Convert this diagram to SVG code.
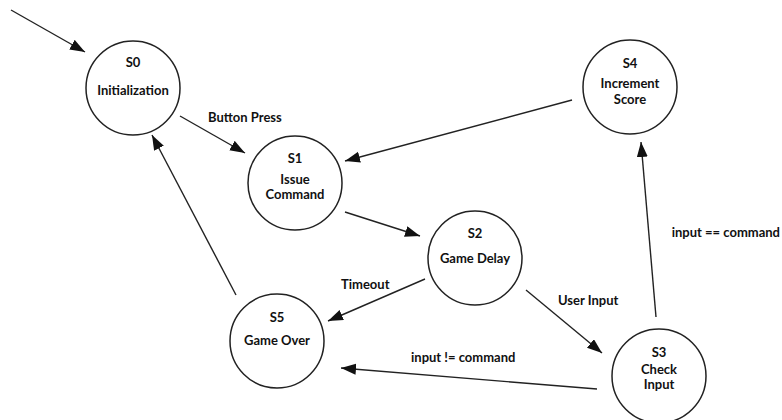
<svg xmlns="http://www.w3.org/2000/svg" width="782" height="420" viewBox="0 0 782 420">
<style>
.st{fill:#fff;stroke:#222;stroke-width:1.5}
.t{font-family:Lato,"Liberation Sans",sans-serif;font-weight:700;font-size:13px;fill:#111;text-anchor:middle}
.el{font-family:Lato,"Liberation Sans",sans-serif;font-weight:700;font-size:13px;fill:#111}
.e{stroke:#222;stroke-width:1.4;fill:none;marker-end:url(#ah)}
</style>
<defs>
<marker id="ah" markerUnits="userSpaceOnUse" markerWidth="16" markerHeight="12" refX="15" refY="5.5" orient="auto">
<path d="M0,0 L15,5.5 L0,11 z" fill="#111"/>
</marker>
</defs>
<rect width="782" height="420" fill="#fff"/>
<g id="connectors">
<line class="e" x1="11" y1="10" x2="85" y2="52"/>
<line class="e" x1="180" y1="116" x2="245" y2="153"/>
<line class="e" x1="572" y1="100" x2="345" y2="161"/>
<line class="e" x1="345" y1="212" x2="420" y2="236"/>
<line class="e" x1="425" y1="279" x2="328" y2="321"/>
<line class="e" x1="526" y1="290" x2="602" y2="353"/>
<line class="e" x1="597" y1="389" x2="341" y2="368"/>
<line class="e" x1="656" y1="317" x2="641" y2="142"/>
<line class="e" x1="236" y1="295" x2="152" y2="135"/>
<text class="el" x="208" y="122">Button Press</text>
<text class="el" x="341" y="289">Timeout</text>
<text class="el" x="558" y="305">User Input</text>
<text class="el" x="411" y="362">input != command</text>
<text class="el" x="780" y="237" text-anchor="end" font-size="12.5">input == command</text>
</g>
<g id="S0">
<circle class="st" cx="133" cy="88" r="47"/>
<text class="t" x="133" y="67">S0</text>
<text class="t" x="133" y="95">Initialization</text>
</g>
<g id="S1">
<circle class="st" cx="295" cy="183" r="47"/>
<text class="t" x="295" y="163">S1</text>
<text class="t" x="295" y="184">Issue</text>
<text class="t" x="295" y="199">Command</text>
</g>
<g id="S2">
<circle class="st" cx="475" cy="258" r="47"/>
<text class="t" x="475" y="238">S2</text>
<text class="t" x="475" y="263">Game Delay</text>
</g>
<g id="S3">
<circle class="st" cx="659" cy="376" r="47"/>
<text class="t" x="659" y="357">S3</text>
<text class="t" x="659" y="374">Check</text>
<text class="t" x="659" y="389">Input</text>
</g>
<g id="S4">
<circle class="st" cx="630" cy="87" r="47"/>
<text class="t" x="630" y="68">S4</text>
<text class="t" x="630" y="88">Increment</text>
<text class="t" x="630" y="104">Score</text>
</g>
<g id="S5">
<circle class="st" cx="277" cy="341" r="47"/>
<text class="t" x="277" y="322">S5</text>
<text class="t" x="277" y="345">Game Over</text>
</g>
</svg>
